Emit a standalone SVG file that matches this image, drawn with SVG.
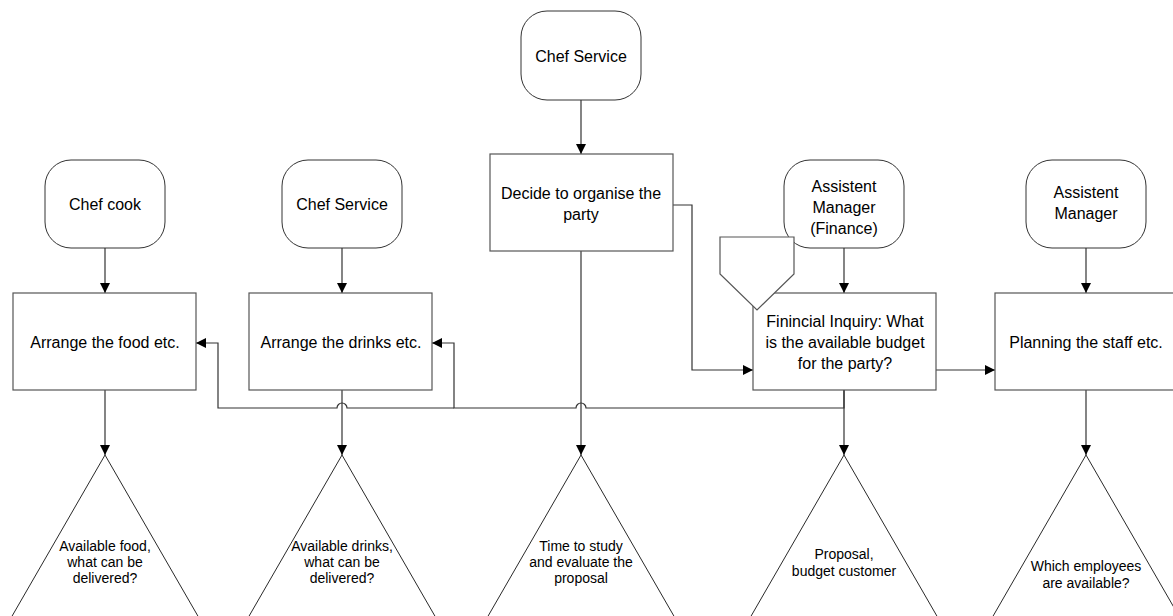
<svg xmlns="http://www.w3.org/2000/svg" width="1173" height="616" viewBox="0 0 1173 616">
<defs>
<marker id="ah" viewBox="0 0 10 10" refX="10" refY="5" markerWidth="10" markerHeight="10" markerUnits="userSpaceOnUse" orient="auto">
<path d="M0,0 L10,5 L0,10 Z" fill="#000"/>
</marker>
<style>
.actor{fill:#fff;stroke:#333;stroke-width:1}
.box{fill:#fff;stroke:#555;stroke-width:1.2}
.tri{fill:#fff;stroke:#111;stroke-width:0.9}
.con{fill:none;stroke:#333;stroke-width:1.2}
.t{font-family:"Liberation Sans",Arial,sans-serif;font-size:16px;fill:#000;text-anchor:middle}
.s{font-family:"Liberation Sans",Arial,sans-serif;font-size:14px;fill:#000;text-anchor:middle}
</style>
</defs>
<rect width="1173" height="616" fill="#fff"/>

<g id="connectors">
<path class="con" d="M105,248 V293" marker-end="url(#ah)"/>
<path class="con" d="M342,248 V293" marker-end="url(#ah)"/>
<path class="con" d="M581,100 V154" marker-end="url(#ah)"/>
<path class="con" d="M844,248 V293" marker-end="url(#ah)"/>
<path class="con" d="M1086,248 V293" marker-end="url(#ah)"/>
<path class="con" d="M105,390 V455" marker-end="url(#ah)"/>
<path class="con" d="M342,390 V455" marker-end="url(#ah)"/>
<path class="con" d="M581,251 V455" marker-end="url(#ah)"/>
<path class="con" d="M844,390 V455" marker-end="url(#ah)"/>
<path class="con" d="M1086,390 V455" marker-end="url(#ah)"/>
<path class="con" d="M673,205 H692 V370 H753" marker-end="url(#ah)"/>
<path class="con" d="M936,370 H995" marker-end="url(#ah)"/>
<path class="con" d="M844,390 V408 H586 A5,5 0 0 0 576,408 H454 V343 H432" marker-end="url(#ah)"/>
<path class="con" d="M454,408 H347 A5,5 0 0 0 337,408 H218 V343 H196" marker-end="url(#ah)"/>
</g>

<g id="actor-chef-cook">
<rect class="actor" x="45" y="160" width="120" height="88" rx="26"/>
<text class="t" x="105" y="210">Chef cook</text>
</g>
<g id="actor-chef-service-left">
<rect class="actor" x="282" y="160" width="120" height="88" rx="26"/>
<text class="t" x="342" y="210">Chef Service</text>
</g>
<g id="actor-chef-service-top">
<rect class="actor" x="521" y="11" width="120" height="89" rx="26"/>
<text class="t" x="581" y="62">Chef Service</text>
</g>
<g id="actor-assistent-finance">
<rect class="actor" x="784" y="160" width="120" height="88" rx="26"/>
<text class="t" x="844" y="192">Assistent</text>
<text class="t" x="844" y="213">Manager</text>
<text class="t" x="844" y="234">(Finance)</text>
</g>
<g id="actor-assistent">
<rect class="actor" x="1026" y="160" width="120" height="88" rx="26"/>
<text class="t" x="1086" y="198">Assistent</text>
<text class="t" x="1086" y="219">Manager</text>
</g>

<g id="box-decide">
<rect class="box" x="490" y="154" width="183" height="97"/>
<text class="t" x="581" y="199">Decide to organise the</text>
<text class="t" x="581" y="220">party</text>
</g>
<g id="box-food">
<rect class="box" x="13" y="293" width="183" height="97"/>
<text class="t" x="105" y="348">Arrange the food etc.</text>
</g>
<g id="box-drinks">
<rect class="box" x="249" y="293" width="183" height="97"/>
<text class="t" x="341" y="348">Arrange the drinks etc.</text>
</g>
<g id="box-finance">
<rect class="box" x="753" y="293" width="183" height="97"/>
<text class="t" x="845" y="327">Finincial Inquiry: What</text>
<text class="t" x="845" y="348">is the available budget</text>
<text class="t" x="845" y="369">for the party?</text>
</g>
<g id="box-planning">
<rect class="box" x="995" y="293" width="183" height="97"/>
<text class="t" x="1086" y="348">Planning the staff etc.</text>
</g>

<g id="offpage">
<polygon fill="#fff" stroke="#555" stroke-width="1.2" points="720,237 794,237 794,274 757,310 720,274"/>
</g>

<g id="tri-food">
<polygon class="tri" points="105,455 0,637 210,637"/>
<text class="s" x="105" y="551">Available food,</text>
<text class="s" x="105" y="567">what can be</text>
<text class="s" x="105" y="583">delivered?</text>
</g>
<g id="tri-drinks">
<polygon class="tri" points="342,455 237,637 447,637"/>
<text class="s" x="342" y="551">Available drinks,</text>
<text class="s" x="342" y="567">what can be</text>
<text class="s" x="342" y="583">delivered?</text>
</g>
<g id="tri-time">
<polygon class="tri" points="581,455 476,637 686,637"/>
<text class="s" x="581" y="551">Time to study</text>
<text class="s" x="581" y="567">and evaluate the</text>
<text class="s" x="581" y="583">proposal</text>
</g>
<g id="tri-proposal">
<polygon class="tri" points="844,455 739,637 949,637"/>
<text class="s" x="844" y="559">Proposal,</text>
<text class="s" x="844" y="576">budget customer</text>
</g>
<g id="tri-employees">
<polygon class="tri" points="1086,455 981,637 1191,637"/>
<text class="s" x="1086" y="571">Which employees</text>
<text class="s" x="1086" y="588">are available?</text>
</g>
</svg>
